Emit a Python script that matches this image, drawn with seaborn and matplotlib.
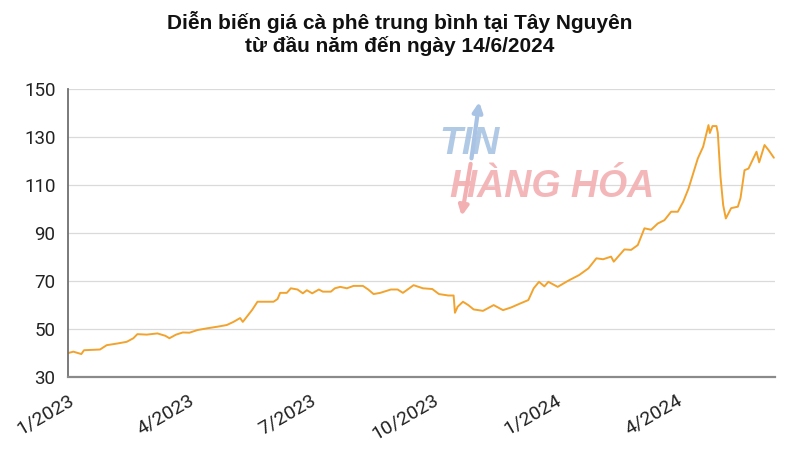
import pandas as pd
import seaborn as sns
import matplotlib.pyplot as plt
import matplotlib.transforms as mtransforms

# Giá cà phê trung bình tại Tây Nguyên (nghìn đồng/kg)
dates = [
    '2023-01-01', '2023-01-05', '2023-01-11', '2023-01-13', '2023-01-25', '2023-01-30',
    '2023-02-07', '2023-02-14', '2023-02-19', '2023-02-22', '2023-03-01', '2023-03-09',
    '2023-03-15', '2023-03-18', '2023-03-23', '2023-03-28', '2023-04-02', '2023-04-08',
    '2023-04-15', '2023-04-23', '2023-04-30', '2023-05-05', '2023-05-10', '2023-05-12',
    '2023-05-19', '2023-05-23', '2023-06-04', '2023-06-07', '2023-06-09', '2023-06-14',
    '2023-06-17', '2023-06-22', '2023-06-26', '2023-06-29', '2023-07-03', '2023-07-08',
    '2023-07-11', '2023-07-17', '2023-07-20', '2023-07-24', '2023-07-29', '2023-08-03',
    '2023-08-10', '2023-08-14', '2023-08-18', '2023-08-23', '2023-08-31', '2023-09-05',
    '2023-09-09', '2023-09-17', '2023-09-24', '2023-10-01', '2023-10-06', '2023-10-13',
    '2023-10-17', '2023-10-18', '2023-10-20', '2023-10-24', '2023-10-28', '2023-11-01',
    '2023-11-08', '2023-11-16', '2023-11-23', '2023-11-29', '2023-12-06', '2023-12-12',
    '2023-12-16', '2023-12-20', '2023-12-24', '2023-12-27', '2024-01-03', '2024-01-11',
    '2024-01-19', '2024-01-26', '2024-02-01', '2024-02-06', '2024-02-12', '2024-02-14',
    '2024-02-22', '2024-02-27', '2024-03-03', '2024-03-08', '2024-03-13', '2024-03-18',
    '2024-03-23', '2024-03-28', '2024-04-02', '2024-04-06', '2024-04-10', '2024-04-17',
    '2024-04-21', '2024-04-25', '2024-04-26', '2024-04-28', '2024-05-01', '2024-05-02',
    '2024-05-04', '2024-05-06', '2024-05-08', '2024-05-12', '2024-05-17', '2024-05-19',
    '2024-05-22', '2024-05-25', '2024-05-31', '2024-06-02', '2024-06-06', '2024-06-09',
    '2024-06-13',
]
prices = [
    40.0, 40.6, 39.6, 41.2, 41.5, 43.3,
    44.0, 44.7, 46.2, 47.9, 47.7, 48.2,
    47.2, 46.2, 47.7, 48.6, 48.5, 49.6,
    50.3, 51.0, 51.7, 53.0, 54.6, 53.0,
    58.0, 61.4, 61.4, 62.5, 65.1, 65.1,
    67.0, 66.5, 64.9, 66.2, 64.9, 66.5,
    65.6, 65.6, 67.0, 67.6, 67.0, 68.0,
    68.0, 66.5, 64.6, 65.1, 66.5, 66.5,
    65.1, 68.3, 67.0, 66.7, 64.6, 64.0,
    64.0, 56.8, 59.3, 61.4, 60.0, 58.2,
    57.6, 60.0, 57.9, 59.0, 60.7, 62.1,
    67.0, 69.7, 67.8, 69.7, 67.6, 70.2,
    72.5, 75.3, 79.5, 79.1, 80.2, 78.1,
    83.2, 83.0, 85.0, 92.0, 91.4, 94.0,
    95.4, 98.9, 98.9, 103.0, 108.5, 121.1,
    126.0, 135.0, 131.7, 134.6, 134.6, 131.7,
    113.5, 101.7, 96.1, 100.4, 101.0, 104.6,
    116.2, 116.9, 123.9, 119.5, 126.7, 124.6,
    121.4,
]

tick_dates = ['2023-01-01', '2023-04-01', '2023-07-01', '2023-10-01', '2024-01-01', '2024-04-01']
tick_labels = ['1/2023', '4/2023', '7/2023', '10/2023', '1/2024', '4/2024']
y_ticks = [30, 50, 70, 90, 110, 130, 150]

df = pd.DataFrame({'Ngay': pd.to_datetime(dates), 'Gia': prices})

sns.set_style('white')
plt.rcParams['font.family'] = ['Roboto', 'DejaVu Sans']

fig = plt.figure(figsize=(8, 4.5), dpi=100)
ax = fig.add_axes([0.085, 0.162, 0.884, 0.64])

sns.lineplot(data=df, x='Ngay', y='Gia', color='#F2A32E', linewidth=1.4, ax=ax)

ax.set_ylim(30, 150)
ax.set_yticks(y_ticks)
ax.set_xlim(pd.Timestamp('2023-01-01'), pd.Timestamp('2024-06-14'))
ax.set_xticks(pd.to_datetime(tick_dates))
ax.set_xticklabels(tick_labels, rotation=30, ha='right', rotation_mode='anchor')
ax.set_xlabel('')
ax.set_ylabel('')
ax.grid(axis='y', color='#DADADA', linewidth=0.9)
ax.set_axisbelow(True)

# dịch nhãn trục x sang phải một chút
shift = mtransforms.ScaledTranslation(7 / 100, 0, fig.dpi_scale_trans)
for lab in ax.get_xticklabels():
    lab.set_transform(lab.get_transform() + shift)

for side in ['top', 'right']:
    ax.spines[side].set_visible(False)
ax.spines['left'].set_color('#707070')
ax.spines['left'].set_linewidth(1.3)
ax.spines['bottom'].set_color('#8A8A8A')
ax.spines['bottom'].set_linewidth(1.6)

ax.tick_params(axis='y', length=0, pad=9, labelsize=13.5, labelcolor='#222222')
ax.tick_params(axis='x', direction='inout', length=8, width=1, color='#555555',
               pad=6, labelsize=14, labelcolor='#222222')

# logo mờ
ax.annotate('', xy=(0.582, 0.965), xytext=(0.57, 0.75), xycoords='axes fraction',
            arrowprops=dict(arrowstyle='-|>', color='#A8C3E3', lw=3, mutation_scale=14))
ax.annotate('', xy=(0.556, 0.55), xytext=(0.57, 0.75), xycoords='axes fraction',
            arrowprops=dict(arrowstyle='-|>', color='#F3B0B2', lw=3, mutation_scale=14))
ax.text(0.525, 0.775, 'TIN', transform=ax.transAxes, fontsize=27, fontweight='bold',
        style='italic', color='#A8C3E3', alpha=0.9, family=['Liberation Sans', 'DejaVu Sans'])
ax.text(0.54, 0.625, 'HÀNG HÓA', transform=ax.transAxes, fontsize=27, fontweight='bold',
        style='italic', color='#F3B0B2', alpha=0.9, family=['Liberation Sans', 'DejaVu Sans'])

fig.text(0.5, 0.975, 'Diễn biến giá cà phê trung bình tại Tây Nguyên\ntừ đầu năm đến ngày 14/6/2024',
         ha='center', va='top', fontsize=15, fontweight='bold', linespacing=1.2,
         color='#111111', family=['Liberation Sans', 'DejaVu Sans'])

fig.savefig('out.png', dpi=100)
